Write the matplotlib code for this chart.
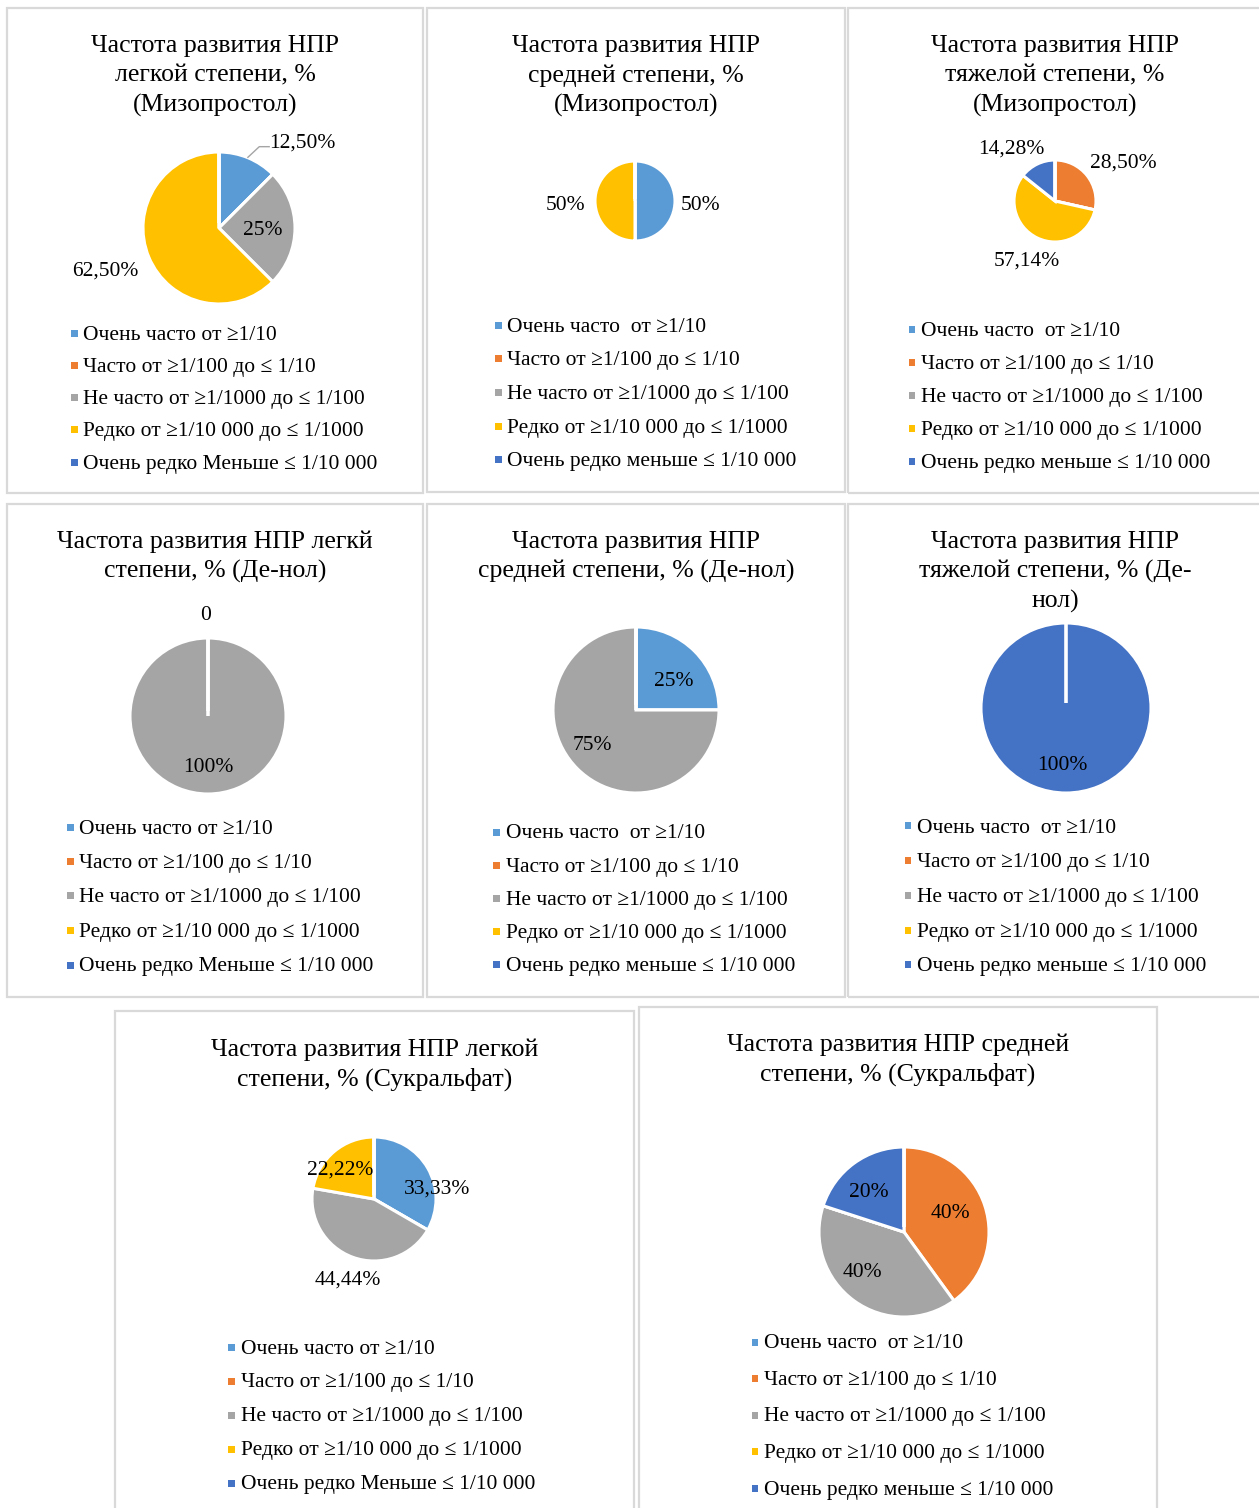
import matplotlib
matplotlib.use("Agg")
import matplotlib.pyplot as plt
from matplotlib.patches import Rectangle

plt.rcParams['font.family'] = ['Liberation Serif', 'DejaVu Serif']

W, H = 1259, 1508
DPI = 100

# office palette, one colour per frequency category
colors = ['#5B9BD5', '#ED7D31', '#A5A5A5', '#FFC000', '#4472C4']

# legend texts (two spellings are used in the source charts)
legend_a = ['Очень часто от ≥1/10',
            'Часто от ≥1/100 до ≤ 1/10',
            'Не часто от ≥1/1000 до ≤ 1/100',
            'Редко от ≥1/10 000 до ≤ 1/1000',
            'Очень редко Меньше ≤ 1/10 000']
legend_b = ['Очень часто  от ≥1/10',
            'Часто от ≥1/100 до ≤ 1/10',
            'Не часто от ≥1/1000 до ≤ 1/100',
            'Редко от ≥1/10 000 до ≤ 1/1000',
            'Очень редко меньше ≤ 1/10 000']

titles = ['Частота развития НПР\nлегкой степени, %\n(Мизопростол)',
          'Частота развития НПР\nсредней степени, %\n(Мизопростол)',
          'Частота развития НПР\nтяжелой степени, %\n(Мизопростол)',
          'Частота развития НПР легкй\nстепени, % (Де-нол)',
          'Частота развития НПР\nсредней степени, % (Де-нол)',
          'Частота развития НПР\nтяжелой степени, % (Де-\nнол)',
          'Частота развития НПР легкой\nстепени, % (Сукральфат)',
          'Частота развития НПР средней\nстепени, % (Сукральфат)']

# values in % for the five categories
miso_light = [12.5, 0, 25, 62.5, 0]
miso_mid = [50, 0, 0, 50, 0]
miso_heavy = [0, 28.5, 0, 57.14, 14.28]
denol_light = [0, 0, 100, 0, 0]
denol_mid = [25, 0, 75, 0, 0]
denol_heavy = [0, 0, 0, 0, 100]
sucr_light = [33.33, 0, 44.44, 22.22, 0]
sucr_mid = [0, 40, 40, 0, 20]

# data labels (index of category -> text), as printed on the charts
lab_miso_light = {0: '12,50%', 2: '25%', 3: '62,50%'}
lab_miso_mid = {0: '50%', 3: '50%'}
lab_miso_heavy = {1: '28,50%', 3: '57,14%', 4: '14,28%'}
lab_denol_light = {1: '0', 2: '100%'}
lab_denol_mid = {0: '25%', 2: '75%'}
lab_denol_heavy = {4: '100%'}
lab_sucr_light = {0: '33,33%', 2: '44,44%', 3: '22,22%'}
lab_sucr_mid = {1: '40%', 2: '40%', 4: '20%'}

values = [miso_light, miso_mid, miso_heavy, denol_light,
          denol_mid, denol_heavy, sucr_light, sucr_mid]
labels = [lab_miso_light, lab_miso_mid, lab_miso_heavy, lab_denol_light,
          lab_denol_mid, lab_denol_heavy, lab_sucr_light, lab_sucr_mid]
legends = [legend_a, legend_b, legend_b, legend_a,
           legend_b, legend_b, legend_a, legend_b]

# layout in pixels: box, title first line y, pie centre + radius,
# label offsets in radius units, legend x / first row / row step
layout = [
    dict(box=(7, 8, 423, 493), ty=44, c=(219, 228), r=76,
         off={0: (1.10, 1.15), 2: (0.58, -0.01), 3: (-1.5, -0.54)},
         lx=74, ly=333, ls=32.3, leader=0),
    dict(box=(427, 8, 845, 492), ty=44, c=(635, 201), r=40,
         off={0: (1.65, -0.05), 3: (-1.75, -0.05)},
         lx=498, ly=325, ls=33.7),
    dict(box=(848, 8, 1262, 493), ty=44, c=(1055, 201), r=41,
         off={1: (1.66, 0.98), 3: (-0.68, -1.41), 4: (-1.07, 1.32)},
         lx=912, ly=329, ls=33.2),
    dict(box=(7, 504, 423, 997), ty=540, c=(208, 716), r=78,
         off={1: (-0.03, 1.32), 2: (0.0, -0.63)},
         lx=70, ly=827, ls=34.5),
    dict(box=(427, 504, 845, 997), ty=540, c=(636, 710), r=83,
         off={0: (0.45, 0.37), 2: (-0.52, -0.40)},
         lx=497, ly=832, ls=33.2),
    dict(box=(848, 504, 1262, 997), ty=540, c=(1066, 708), r=85,
         off={4: (-0.04, -0.65)},
         lx=908, ly=826, ls=34.7),
    dict(box=(115, 1011, 634, 1512), ty=1048, c=(374, 1199), r=62,
         off={0: (1.02, 0.19), 2: (-0.42, -1.27), 3: (-0.55, 0.5)},
         lx=232, ly=1347, ls=34),
    dict(box=(639, 1007, 1157, 1512), ty=1043, c=(904, 1232), r=85,
         off={1: (0.55, 0.24), 2: (-0.49, -0.45), 4: (-0.41, 0.49)},
         lx=755, ly=1342, ls=36.5),
]

TITLE_STEP = 29.5
FS_TITLE = 18.5
FS_TEXT = 15.5
SHIFT = 2  # text baseline nudge, px


def fx(x):
    return x / W


def fy(y):
    return 1 - y / H


fig = plt.figure(figsize=(W / DPI, H / DPI), dpi=DPI)
fig.patch.set_facecolor('white')

for title, vals, labs, leg, lay in zip(titles, values, labels, legends, layout):
    x0, y0, x1, y1 = lay['box']
    fig.add_artist(Rectangle((fx(x0), fy(y1)), fx(x1 - x0), (y1 - y0) / H,
                             transform=fig.transFigure, fill=False,
                             edgecolor='#D9D9D9', linewidth=1.6))
    for j, line in enumerate(title.split('\n')):
        fig.text(fx((x0 + x1) / 2), fy(lay['ty'] + j * TITLE_STEP + SHIFT), line,
                 ha='center', va='center', fontsize=FS_TITLE)

    cx, cy = lay['c']
    r = lay['r']
    ax = fig.add_axes([fx(cx - 1.25 * r), fy(cy + 1.25 * r), 2.5 * r / W, 2.5 * r / H])
    ax.pie(vals, colors=colors, startangle=90, counterclock=False, radius=1,
           wedgeprops=dict(edgecolor='white', linewidth=2.2))
    # separator at the start angle (full-circle wedges draw none)
    ax.plot([0, 0], [0.06, 1], color='white', lw=2.6, solid_capstyle='butt')
    ax.set_xlim(-1.25, 1.25)
    ax.set_ylim(-1.25, 1.25)
    for k, txt in labs.items():
        dx, dy = lay['off'][k]
        ax.text(dx, dy - SHIFT / r, txt, ha='center', va='center',
                fontsize=FS_TEXT, clip_on=False)
    if 'leader' in lay:
        ax.plot([0.38, 0.53, 0.66], [0.93, 1.07, 1.07], color='#A5A5A5',
                lw=1, clip_on=False)

    for i, name in enumerate(leg):
        yy = lay['ly'] + i * lay['ls']
        fig.add_artist(Rectangle((fx(lay['lx'] - 3.5), fy(yy + 3.5)), 7 / W, 7 / H,
                                 transform=fig.transFigure, facecolor=colors[i],
                                 edgecolor='none'))
        fig.text(fx(lay['lx'] + 9), fy(yy + SHIFT), name, ha='left', va='center',
                 fontsize=FS_TEXT)

fig.savefig('out.png', dpi=DPI, facecolor='white')
